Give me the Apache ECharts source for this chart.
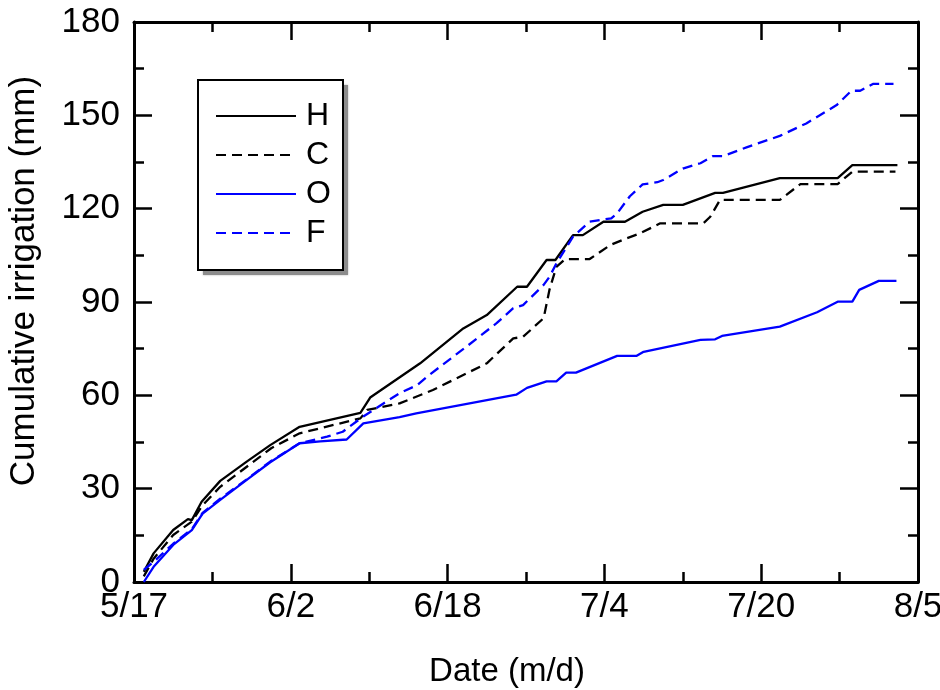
<!DOCTYPE html>
<html>
<head>
<meta charset="utf-8">
<script src="https://cdn.jsdelivr.net/npm/echarts@6/dist/echarts.min.js"></script>
<style>html,body{margin:0;padding:0;background:#fff}#c{width:940px;height:690px}</style>
</head>
<body>
<div id="c"></div>
<script>
// x values are days since 5/17
const xTickLabels = ["5/17", "6/2", "6/18", "7/4", "7/20", "8/5"];
const seriesNames = ["H", "C", "O", "F"];

const H_days = [1, 2, 4, 5.5, 5.9, 6.9, 8.8, 11.5, 13.9, 16.9, 23.1, 24.1, 29.2, 33.6, 36.0, 39.1, 40.1, 42.1, 43.0, 44.8, 45.8, 47.9, 50.1, 51.9, 54.0, 56.0, 59.3, 60.1, 65.9, 71.8, 73.3, 77.9];
const H_vals = [3.3, 9.2, 16.7, 20.2, 19.9, 25.8, 32.5, 38.7, 44.0, 49.9, 54.4, 59.3, 70.3, 81.5, 85.8, 94.9, 94.9, 103.5, 103.5, 111.5, 111.5, 115.8, 115.8, 119.0, 121.2, 121.2, 125.1, 125.1, 129.8, 129.8, 134.0, 134.0];

const C_days = [1, 2, 4, 5.9, 7.0, 8.8, 14.0, 16.9, 23.1, 23.8, 27.1, 30.5, 33.9, 36.0, 38.7, 39.7, 41.8, 42.4, 43.1, 44.0, 46.5, 48.6, 49.9, 51.6, 53.7, 58.1, 58.8, 59.8, 65.9, 68.0, 71.8, 73.3, 77.7];
const C_vals = [1.8, 7.5, 15.1, 19.4, 24.7, 30.6, 43.0, 47.8, 52.6, 55.3, 57.4, 61.7, 67.0, 70.3, 78.3, 78.8, 84.8, 94.0, 101.3, 103.8, 103.8, 108.3, 110.0, 112.0, 115.3, 115.3, 117.4, 122.8, 122.8, 127.9, 127.9, 131.9, 131.9];

const O_days = [1, 2, 4, 5.9, 7.0, 8.8, 11.5, 13.9, 16.9, 19.0, 21.7, 23.4, 27.1, 28.8, 39.0, 40.1, 42.1, 43.1, 44.1, 45.1, 49.3, 51.3, 52.0, 57.8, 59.3, 60.0, 65.9, 69.7, 71.8, 73.3, 74.0, 76.0, 77.8];
const O_vals = [0, 4.9, 11.9, 16.7, 22.0, 26.4, 32.8, 38.5, 44.6, 45.2, 45.8, 51.0, 53.0, 54.2, 60.2, 62.4, 64.5, 64.5, 67.3, 67.3, 72.7, 72.7, 74.0, 77.8, 78.0, 79.1, 82.1, 86.7, 90.1, 90.1, 93.9, 96.8, 96.8];

const F_days = [1, 2, 4, 5.9, 7.0, 8.8, 11.5, 13.9, 16.9, 19.7, 21.3, 23.4, 27.1, 28.9, 29.9, 33.9, 37.0, 38.7, 39.7, 41.8, 42.4, 43.1, 44.8, 46.5, 48.7, 49.3, 50.6, 51.9, 53.4, 54.0, 56.0, 57.8, 59.1, 60.1, 62.5, 65.9, 68.6, 71.7, 73.2, 74.1, 75.4, 77.5];
const F_vals = [3.9, 6.5, 12.3, 17.0, 22.2, 26.8, 33.0, 38.7, 44.6, 46.7, 48.3, 53.2, 60.7, 63.3, 66.0, 75.6, 83.2, 88.0, 89.0, 95.5, 98.1, 102.4, 111.0, 115.8, 116.9, 118.5, 124.0, 127.8, 128.5, 129.2, 132.9, 134.6, 136.9, 136.9, 139.7, 143.4, 147.4, 153.3, 157.9, 157.9, 160.1, 160.1];

function pairs(xs, ys) { return xs.map((x, i) => [x, ys[i]]); }

const FONT = '"Liberation Sans", Arial, sans-serif';
const chart = echarts.init(document.getElementById('c'), null, { renderer: 'canvas' });

const axisLineStyle = { color: '#000', width: 3 };
const tickCfg = { inside: true, length: 18, lineStyle: { color: '#000', width: 2.5 } };
const minorCfg = { show: true, splitNumber: 2, length: 10, lineStyle: { color: '#000', width: 2.5 } };
const option = {
  animation: false,
  backgroundColor: '#fff',
  grid: { left: 134, right: 22, top: 22, bottom: 108, containLabel: false, outerBoundsMode: 'none' },
  graphic: [{
    type: 'rect', z: 1,
    shape: { x: 203, y: 85, width: 145, height: 190 },
    style: { fill: '#8c8c8c', stroke: null, shadowColor: 'rgba(0,0,0,0.3)', shadowBlur: 2 }
  }, {
    type: 'rect', z: 2,
    shape: { x: 198, y: 80, width: 145, height: 190 },
    style: { fill: '#fff', stroke: '#000', lineWidth: 2 }
  }],
  legend: {
    orient: 'vertical',
    left: 198,
    top: 80,
    z: 10,
    data: seriesNames,
    itemWidth: 80,
    itemHeight: 14,
    itemGap: 3,
    padding: [18, 13, 18, 17],
    itemStyle: { opacity: 0 },
    textStyle: { fontFamily: FONT, fontSize: 32, lineHeight: 36, color: '#000', padding: [0, 0, 0, 5] }
  },
  xAxis: [{
    type: 'value', min: 0, max: 80, interval: 16,
    position: 'bottom',
    name: 'Date (m/d)', nameLocation: 'middle', nameGap: 73,
    nameTextStyle: { fontFamily: FONT, fontSize: 33, color: '#000', padding: [0, 38, 0, 0] },
    axisLine: { onZero: false, lineStyle: axisLineStyle },
    axisTick: tickCfg,
    minorTick: minorCfg,
    splitLine: { show: false },
    axisLabel: { fontFamily: FONT, fontSize: 35, color: '#000', margin: 8,
      formatter: v => xTickLabels[Math.round(v / 16)] }
  }, {
    type: 'value', min: 0, max: 80, interval: 16,
    position: 'top',
    axisLine: { onZero: false, lineStyle: axisLineStyle },
    axisTick: tickCfg,
    minorTick: minorCfg,
    splitLine: { show: false },
    axisLabel: { show: false }
  }],
  yAxis: [{
    type: 'value', min: 0, max: 180, interval: 30,
    position: 'left',
    name: 'Cumulative irrigation (mm)', nameLocation: 'middle', nameGap: 92,
    nameTextStyle: { fontFamily: FONT, fontSize: 35, color: '#000', padding: [0, 0, 0, 42] },
    axisLine: { show: true, onZero: false, lineStyle: axisLineStyle },
    axisTick: tickCfg,
    minorTick: minorCfg,
    splitLine: { show: false },
    axisLabel: { fontFamily: FONT, fontSize: 35, color: '#000', margin: 14 }
  }, {
    type: 'value', min: 0, max: 180, interval: 30,
    position: 'right',
    axisLine: { show: true, onZero: false, lineStyle: axisLineStyle },
    axisTick: tickCfg,
    minorTick: minorCfg,
    splitLine: { show: false },
    axisLabel: { show: false }
  }],
  series: [
    { name: 'H', type: 'line', symbol: 'none', data: pairs(H_days, H_vals),
      lineStyle: { color: '#000', width: 2.3, type: 'solid' }, itemStyle: { color: '#000' } },
    { name: 'C', type: 'line', symbol: 'none', data: pairs(C_days, C_vals),
      lineStyle: { color: '#000', width: 2.3, type: [10, 6] }, itemStyle: { color: '#000' } },
    { name: 'O', type: 'line', symbol: 'none', data: pairs(O_days, O_vals),
      lineStyle: { color: '#0000ff', width: 2.3, type: 'solid' }, itemStyle: { color: '#0000ff' } },
    { name: 'F', type: 'line', symbol: 'none', data: pairs(F_days, F_vals),
      lineStyle: { color: '#0000ff', width: 2.3, type: [10, 6] }, itemStyle: { color: '#0000ff' } }
  ]
};
chart.setOption(option);
</script>
</body>
</html>
